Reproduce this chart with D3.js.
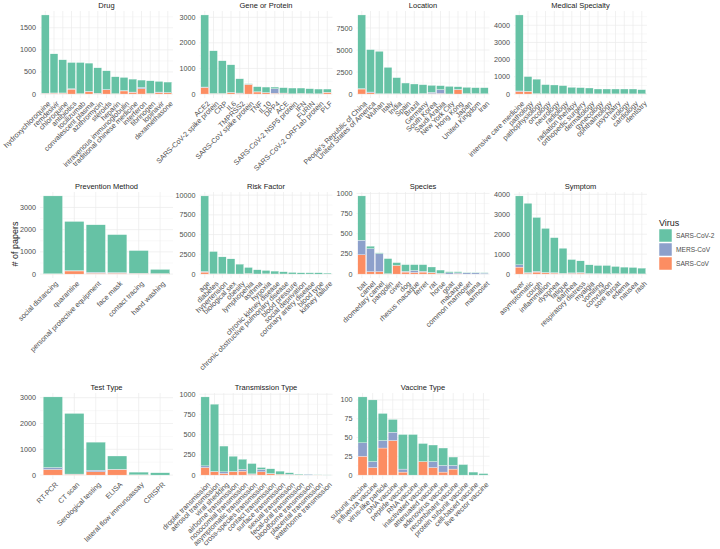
<!DOCTYPE html>
<html lang="en">
<head>
<meta charset="UTF-8">
<title>Papers per entity by virus</title>
<script src="https://d3js.org/d3.v7.min.js"></script>
<style>
  body { margin: 0; background: #fff; }
  svg { display: block; font-family: "Liberation Sans", Arial, sans-serif; }
  .grid-major { stroke: #ebebeb; stroke-width: 0.7; }
  .grid-minor { stroke: #f2f2f2; stroke-width: 0.5; }
  .tick-y, .tick-x { font-size: 7.2px; fill: #4d4d4d; }
  .strip { font-size: 7.5px; fill: #1a1a1a; }
</style>
</head>
<body>
<svg width="720" height="549"></svg>
<script>
const viruses = ["SARS-CoV-2", "MERS-CoV", "SARS-CoV"];
const colors = ["#66c2a5", "#8da0cb", "#fc8d62"];

// Drug
const drugCats = ["hydroxychloroquine", "remdesivir", "chloroquine", "antibiotics", "tocilizumab", "convalescent plasma", "azithromycin", "steroids", "heparin", "intravenous immunoglobulin", "traditional chinese medicine", "interferon", "fibrinogen", "lopinavir", "dexamethasone"];
const drugSars2 = [1770, 885, 750, 594, 704, 635, 574, 421, 381, 296, 293, 166, 285, 241, 236];
const drugMers = [5, 5, 5, 10, 0, 10, 5, 10, 0, 10, 5, 30, 0, 10, 5];
const drugSars = [15, 20, 20, 110, 10, 55, 15, 95, 10, 70, 40, 120, 15, 35, 30];

// Gene or Protein
const geneCats = ["ACE2", "SARS-CoV-2 spike protein", "CRP", "IL6", "TMPRSS2", "SARS-CoV spike protein", "TNF", "IL10", "DPP4", "ACE", "SARS-CoV-2 NSP5 protein", "IFN", "FURIN", "SARS-CoV-2 ORF1ab protein", "PLF"];
const geneSars2 = [2815, 1665, 1275, 1078, 557, 15, 196, 213, 63, 207, 224, 209, 193, 185, 125];
const geneMers = [15, 5, 5, 10, 10, 10, 10, 10, 180, 10, 0, 5, 5, 0, 5];
const geneSars = [260, 20, 20, 55, 30, 378, 80, 50, 30, 30, 10, 20, 10, 10, 65];

// Location
const locCats = ["People's Republic of China", "United States of America", "Wuhan", "Italy", "India", "Spain", "Brazil", "Germany", "South Korea", "Saudi Arabia", "New York City", "Hong Kong", "Japan", "United Kingdom", "Iran"];
const locSars2 = [8360, 4810, 4810, 2990, 1820, 1220, 1125, 1000, 785, 440, 855, 300, 710, 670, 690];
const locMers = [50, 80, 10, 10, 10, 10, 5, 20, 150, 450, 5, 30, 10, 20, 10];
const locSars = [570, 150, 30, 30, 30, 20, 10, 40, 50, 60, 10, 500, 40, 30, 20];

// Medical Specialty
const medCats = ["intensive care medicine", "pathology", "pathophysiology", "oncology", "neurology", "radiology", "radiation therapy", "orthopedic surgery", "dermatology", "gynecology", "ophthalmology", "psychiatry", "urology", "cardiology", "dentistry"];
const medSars2 = [4420, 855, 840, 531, 517, 478, 380, 361, 341, 283, 283, 283, 283, 283, 244];
const medMers = [30, 10, 5, 5, 0, 0, 0, 0, 0, 0, 0, 0, 0, 0, 0];
const medSars = [150, 150, 20, 10, 10, 10, 10, 10, 10, 10, 10, 10, 10, 10, 10];

// Prevention Method
const prevCats = ["social distancing", "quarantine", "personal protective equipment", "face mask", "contact tracing", "hand washing"];
const prevSars2 = [3505, 2210, 2140, 1707, 1020, 185];
const prevMers = [5, 20, 40, 30, 10, 5];
const prevSars = [10, 140, 40, 40, 30, 20];

// Risk Factor
const riskCats = ["age", "diabetes", "hypertension", "biological sex", "obesity", "lymphopenia", "asthma", "hypoxia", "chronic kidney disease", "chronic obstructive pulmonary disease", "blood pressure", "social deprivation", "coronary artery disease", "blood type", "kidney failure"];
const riskSars2 = [9560, 2830, 2150, 1915, 1245, 770, 531, 432, 363, 279, 205, 168, 158, 168, 116];
const riskMers = [90, 10, 10, 5, 5, 10, 5, 10, 5, 5, 0, 0, 5, 0, 5];
const riskSars = [250, 20, 20, 10, 10, 60, 10, 20, 10, 10, 5, 0, 5, 0, 5];

// Species
const specCats = ["bat", "camel", "dromedary camel", "pangolin", "civet", "dog", "rhesus macaque", "ferret", "rat", "horse", "goat", "macaque", "common marmoset", "llama", "marmoset"];
const specSars2 = [549, 31, 8, 187, 34, 82, 72, 82, 68, 40, 14, 14, 6, 6, 5];
const specMers = [180, 285, 225, 0, 0, 10, 25, 10, 5, 5, 15, 10, 15, 15, 12];
const specSars = [240, 30, 30, 5, 108, 25, 20, 25, 15, 5, 0, 5, 0, 0, 0];

// Symptom
const sympCats = ["fever", "asymptomatic", "cough", "inflammation", "dyspnea", "fatigue", "diarrhea", "respiratory distress", "myalgia", "vomiting", "convulsion", "sore throat", "edema", "nausea", "rash"];
const sympSars2 = [3455, 3470, 2700, 2210, 1756, 1255, 670, 584, 435, 407, 417, 357, 334, 317, 289];
const sympMers = [115, 30, 40, 20, 20, 10, 20, 30, 10, 10, 5, 10, 5, 5, 5];
const sympSars = [350, 50, 100, 60, 50, 30, 40, 50, 20, 15, 10, 15, 10, 10, 5];

// Test Type
const testCats = ["RT-PCR", "CT scan", "Serological testing", "ELISA", "lateral flow immunoassay", "CRISPR"];
const testSars2 = [2736, 2350, 1085, 513, 105, 90];
const testMers = [77, 10, 64, 10, 5, 0];
const testSars = [217, 30, 128, 217, 5, 0];

// Transmission Type
const transCats = ["droplet transmission", "aerosol transmission", "viral shedding", "airborne transmission", "nosocomial transmission", "asymptomatic transmission", "cross-species transmission", "contact transmission", "surface transmission", "sexual transmission", "fecal-oral transmission", "bloodborne transmission", "placental transmission", "waterborne transmission"];
const transSars2 = [853, 831, 319, 187, 123, 128, 23, 58, 39, 19, 8, 2, 3, 2];
const transMers = [20, 5, 20, 5, 24, 5, 30, 5, 0, 5, 2, 10, 0, 0];
const transSars = [94, 41, 20, 41, 49, 10, 41, 15, 10, 5, 2, 0, 1, 0];

// Vaccine Type
const vaccCats = ["subunit vaccine", "influenza vaccine", "virus-like particle", "DNA vaccine", "peptide vaccine", "RNA vaccine", "inactivated vaccine", "attenuated vaccine", "adenovirus vaccine", "recombinant vaccine", "protein subunit vaccine", "cell-based vaccine", "live vector vaccine"];
const vaccSars2 = [61, 82, 36, 17, 46, 54, 24, 22, 23, 11, 14, 4, 2];
const vaccMers = [18, 8, 10, 11, 4, 0, 0, 8, 9, 5, 0, 0, 0];
const vaccSars = [25, 10, 36, 46, 4, 0, 18, 10, 4, 8, 0, 0, 0];

const facetNames = ["Drug", "Gene or Protein", "Location", "Medical Specialty", "Prevention Method", "Risk Factor", "Species", "Symptom", "Test Type", "Transmission Type", "Vaccine Type"];
const tickSteps = [500, 1000, 2500, 1000, 1000, 2500, 250, 1000, 1000, 250, 25];

const facets = [
  [drugCats, drugSars2, drugMers, drugSars],
  [geneCats, geneSars2, geneMers, geneSars],
  [locCats, locSars2, locMers, locSars],
  [medCats, medSars2, medMers, medSars],
  [prevCats, prevSars2, prevMers, prevSars],
  [riskCats, riskSars2, riskMers, riskSars],
  [specCats, specSars2, specMers, specSars],
  [sympCats, sympSars2, sympMers, sympSars],
  [testCats, testSars2, testMers, testSars],
  [transCats, transSars2, transMers, transSars],
  [vaccCats, vaccSars2, vaccMers, vaccSars]
].map(([cats, s2, m, s], i) => ({
  name: facetNames[i],
  step: tickSteps[i],
  rows: cats.map((c, j) => ({ cat: c, "SARS-CoV-2": s2[j], "MERS-CoV": m[j], "SARS-CoV": s[j] }))
}));

// layout of the panel grid
const colX = [40, 199.5, 356.5, 514];
const panelW = 133;
const rowY = [[11, 98], [192, 278], [393, 479]];

const svg = d3.select("svg");
const color = d3.scaleOrdinal().domain(viruses).range(colors);
const stack = d3.stack().keys(["SARS-CoV", "MERS-CoV", "SARS-CoV-2"]);

facets.forEach((f, i) => {
  const col = i % 4, row = Math.floor(i / 4);
  const x0 = colX[col], x1 = x0 + panelW;
  const [top, bottom] = rowY[row];
  const g = svg.append("g");

  const totals = f.rows.map(r => viruses.reduce((a, v) => a + r[v], 0));
  const ymax = d3.max(totals);
  const y = d3.scaleLinear().domain([-0.05 * ymax, 1.05 * ymax]).range([bottom, top]);
  const x = d3.scaleBand().domain(f.rows.map(r => r.cat)).range([x0, x1])
    .paddingInner(0.1).paddingOuter(0.15);

  const major = d3.range(0, 1.05 * ymax + 1e-9, f.step);
  const minor = d3.range(-f.step / 2, 1.05 * ymax, f.step).filter(v => v >= -0.05 * ymax);

  g.selectAll(".grid-minor").data(minor).join("line")
    .attr("class", "grid-minor")
    .attr("x1", x0).attr("x2", x1)
    .attr("y1", d => y(d)).attr("y2", d => y(d));
  g.selectAll(".grid-major.h").data(major).join("line")
    .attr("class", "grid-major h")
    .attr("x1", x0).attr("x2", x1)
    .attr("y1", d => y(d)).attr("y2", d => y(d));
  g.selectAll(".grid-major.v").data(x.domain()).join("line")
    .attr("class", "grid-major v")
    .attr("x1", d => x(d) + x.bandwidth() / 2).attr("x2", d => x(d) + x.bandwidth() / 2)
    .attr("y1", top).attr("y2", bottom);

  g.selectAll(".layer").data(stack(f.rows)).join("g")
    .attr("fill", d => color(d.key))
    .selectAll("rect").data(d => d).join("rect")
    .attr("x", d => x(d.data.cat))
    .attr("width", x.bandwidth())
    .attr("y", d => y(d[1]))
    .attr("height", d => Math.max(0, y(d[0]) - y(d[1])))
    .attr("stroke", "#fff").attr("stroke-width", 0.3);

  g.selectAll(".tick-y").data(major).join("text")
    .attr("class", "tick-y")
    .attr("x", x0 - 4).attr("y", d => y(d))
    .attr("dy", "0.35em").attr("text-anchor", "end")
    .text(d => d3.format("d")(d));

  g.selectAll(".tick-x").data(x.domain()).join("text")
    .attr("class", "tick-x")
    .attr("text-anchor", "end")
    .attr("dy", "0.7em")
    .attr("transform", d => `translate(${x(d) + x.bandwidth() / 2 + 2},${bottom + 2.5}) rotate(-45)`)
    .text(d => d);

  g.append("text").attr("class", "strip")
    .attr("x", (x0 + x1) / 2).attr("y", top - 3)
    .attr("text-anchor", "middle")
    .text(f.name);
});

svg.append("text")
  .attr("transform", "translate(15,244) rotate(-90)")
  .attr("text-anchor", "middle").attr("dy", "0.35em")
  .attr("font-size", "9px").attr("fill", "#1a1a1a")
  .text("# of papers");

const legend = svg.append("g").attr("transform", "translate(659,229)");
legend.append("text").attr("x", 0).attr("y", -3)
  .attr("font-size", "9px").attr("fill", "#1a1a1a").text("Virus");
viruses.forEach((v, i) => {
  legend.append("rect")
    .attr("x", 0).attr("y", i * 14)
    .attr("width", 13).attr("height", 13)
    .attr("fill", colors[i]).attr("stroke", "#fff").attr("stroke-width", 0.5);
  legend.append("text")
    .attr("x", 17).attr("y", i * 14 + 6.5).attr("dy", "0.35em")
    .attr("font-size", "6.6px").attr("fill", "#4d4d4d").text(v);
});
</script>
</body>
</html>
